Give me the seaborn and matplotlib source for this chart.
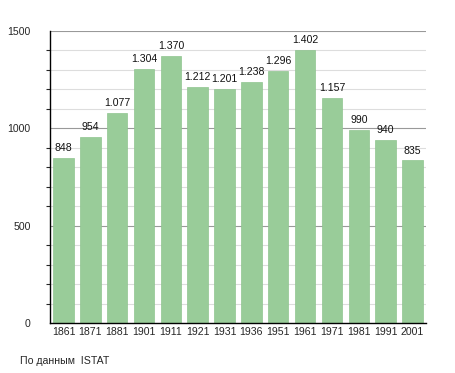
import matplotlib
matplotlib.use("Agg")
import matplotlib.pyplot as plt
import seaborn as sns
import pandas as pd
from matplotlib.ticker import MultipleLocator

# Данные переписей
anni = ["1861", "1871", "1881", "1901", "1911", "1921", "1931",
        "1936", "1951", "1961", "1971", "1981", "1991", "2001"]
abitanti = [848, 954, 1077, 1304, 1370, 1212, 1201,
            1238, 1296, 1402, 1157, 990, 940, 835]

df = pd.DataFrame({"anno": anni, "abitanti": abitanti})

sns.set_style("white")
plt.rcParams["font.family"] = ["Liberation Sans", "DejaVu Sans"]

fig = plt.figure(figsize=(4.55, 3.73), dpi=100)
ax = fig.add_axes([0.110, 0.134, 0.826, 0.783])

# Сетка
for v in range(100, 1600, 100):
    col = "#999999" if v % 500 == 0 else "#dddddd"
    ax.axhline(v, color=col, lw=0.8, zorder=0)

sns.barplot(data=df, x="anno", y="abitanti", color="#99cc99", width=0.76,
            saturation=1, edgecolor="#8fc48f", linewidth=0.5, ax=ax, zorder=2)

# Подписи над столбцами
for i, v in enumerate(abitanti):
    txt = f"{v:,}".replace(",", ".")
    ax.text(i, v + 25, txt, ha="center", va="bottom", fontsize=7.6, color="#111111")

ax.set_xlim(-0.5, len(anni) - 0.5)
ax.set_ylim(0, 1500)
ax.yaxis.set_major_locator(MultipleLocator(500))
ax.yaxis.set_minor_locator(MultipleLocator(100))
ax.tick_params(axis="y", which="major", length=5, width=0.8, labelsize=7.6, pad=9)
ax.tick_params(axis="y", which="minor", length=3, width=0.8, left=True)
ax.tick_params(axis="x", length=0, labelsize=7.6, pad=3)
ax.set_xlabel("")
ax.set_ylabel("")

for s in ["top", "right"]:
    ax.spines[s].set_visible(False)
for s in ["left", "bottom"]:
    ax.spines[s].set_color("black")
    ax.spines[s].set_linewidth(1)

fig.text(20 / 455, 1 - 361 / 373, "По данным  ISTAT", fontsize=7.6, va="center")

fig.savefig("out.png", dpi=100)
